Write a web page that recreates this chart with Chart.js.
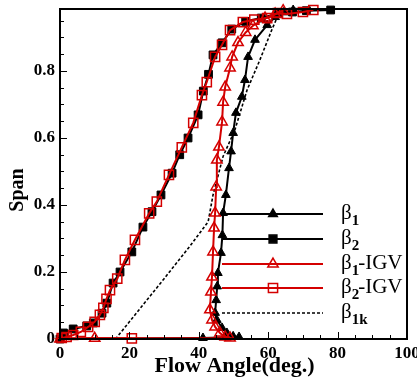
<!DOCTYPE html>
<html><head><meta charset="utf-8">
<script src="https://cdn.jsdelivr.net/npm/chart.js@4/dist/chart.umd.min.js"></script>
<style>html,body{margin:0;padding:0;background:#fff}#wrap{width:417px;height:381px}</style>
</head><body><div id="wrap"><canvas id="c" width="417" height="381"></canvas></div>
<script>
// ---- data (Flow angle in deg., Span) ----
const xTicks = [0, 20, 40, 60, 80, 100];
const yTicks = [0, 0.2, 0.4, 0.6, 0.8];
const yTickLabels = ["0", "0.2", "0.4", "0.6", "0.8"];

const beta1X = [0, 41.2, 51.6, 49.9, 48.1, 46.7, 45.2, 44.7, 45.0, 45.3, 45.5, 46.4, 46.8, 47.0, 47.8, 48.7, 49.3, 49.9, 50.7, 52.4, 53.3, 54.2, 56.2, 59.7, 62.0, 64.5, 67.2];
const beta1Y = [0, 0.003, 0.006, 0.008, 0.018, 0.033, 0.057, 0.078, 0.116, 0.157, 0.197, 0.257, 0.31, 0.376, 0.43, 0.51, 0.56, 0.615, 0.675, 0.723, 0.773, 0.842, 0.893, 0.937, 0.961, 0.975, 0.982];

const beta2X = [0, 1.0, 3.8, 7.7, 9.6, 12.1, 13.5, 15.3, 17.3, 20.7, 23.9, 26.5, 29.1, 32.3, 34.5, 36.9, 39.8, 41.3, 42.8, 44.1, 46.7, 49.5, 53.5, 58.0, 63.0, 67.0, 71.0, 78.0];
const beta2Y = [0, 0.018, 0.03, 0.039, 0.048, 0.077, 0.107, 0.167, 0.2, 0.26, 0.334, 0.38, 0.43, 0.495, 0.55, 0.6, 0.669, 0.74, 0.79, 0.848, 0.884, 0.925, 0.948, 0.958, 0.972, 0.976, 0.98, 0.982];

const beta1IgvX = [0, 10.0, 49.0, 47.6, 46.1, 44.7, 43.8, 43.2, 43.5, 43.8, 44.1, 44.4, 44.7, 45.0, 45.2, 45.8, 46.7, 47.0, 47.6, 49.0, 49.6, 51.3, 53.5, 55.6, 59.1, 62.0, 64.3];
const beta1IgvY = [0, 0.002, 0.003, 0.006, 0.018, 0.036, 0.057, 0.087, 0.14, 0.185, 0.26, 0.331, 0.376, 0.454, 0.534, 0.573, 0.648, 0.707, 0.752, 0.809, 0.842, 0.885, 0.915, 0.935, 0.958, 0.97, 0.98];

const beta2IgvX = [20.7, 0.5, 1.9, 3.8, 6.0, 8.1, 10.0, 11.5, 12.5, 13.4, 14.4, 16.5, 18.7, 21.6, 25.7, 27.9, 31.4, 35.1, 38.4, 40.9, 42.3, 44.7, 46.7, 49.0, 52.7, 56.0, 59.7, 62.8, 65.4, 70.0, 73.0];
const beta2IgvY = [0.002, 0.003, 0.006, 0.012, 0.021, 0.036, 0.051, 0.072, 0.093, 0.12, 0.146, 0.18, 0.236, 0.296, 0.375, 0.41, 0.49, 0.572, 0.645, 0.728, 0.767, 0.842, 0.878, 0.922, 0.946, 0.953, 0.958, 0.973, 0.97, 0.976, 0.982];

const beta1kX = [16.0, 23.0, 30.0, 37.5, 42.7, 44.1, 47.0, 50.4, 53.9, 57.6, 61.0, 62.6, 64.0];
const beta1kY = [0, 0.09, 0.18, 0.278, 0.35, 0.43, 0.545, 0.624, 0.743, 0.833, 0.922, 0.96, 0.975];

const seriesNames = ["β1", "β2", "β1-IGV", "β2-IGV", "β1k"];

function zip(xs, ys) { return xs.map((x, i) => ({x: x, y: ys[i]})); }

const SERIF = '"Liberation Serif", "Times New Roman", serif';

const legendRows = [
  {name: seriesNames[0], color: '#000', dash: [], style: 'triangle', fill: '#000', r: 5},
  {name: seriesNames[1], color: '#000', dash: [], style: 'rect', fill: '#000', r: 5.5},
  {name: seriesNames[2], color: '#d40000', dash: [], style: 'triangle', fill: 'rgba(0,0,0,0)', r: 6},
  {name: seriesNames[3], color: '#d40000', dash: [], style: 'rect', fill: 'rgba(0,0,0,0)', r: 6.5},
  {name: seriesNames[4], color: '#000', dash: [3, 2], style: false, fill: null, r: 0}
];

const decor = {
  id: 'decor',
  afterDatasetsDraw(chart) {
    const ctx = chart.ctx, a = chart.chartArea;
    const xs = chart.scales.x, ys = chart.scales.y;
    ctx.save();
    // inward ticks
    ctx.strokeStyle = '#000';
    ctx.lineWidth = 1;
    for (let v = 0; v <= 100; v += 5) {
      const px = Math.round(xs.getPixelForValue(v)) + 0.5;
      const len = (v % 20 === 0) ? 7 : 4;
      ctx.beginPath(); ctx.moveTo(px, a.bottom); ctx.lineTo(px, a.bottom - len); ctx.stroke();
    }
    for (let k = 0; k <= 19; k++) {
      const v = k * 0.05;
      if (v > ys.max) break;
      const py = Math.round(ys.getPixelForValue(v)) + 0.5;
      const len = (k % 4 === 0) ? 7 : 4;
      ctx.beginPath(); ctx.moveTo(a.left, py); ctx.lineTo(a.left + len, py); ctx.stroke();
    }
    // frame
    ctx.lineWidth = 2;
    ctx.strokeRect(a.left, a.top, a.right - a.left, a.bottom - a.top);
    // legend
    const rowY = [214, 239, 264, 288, 313];
    legendRows.forEach((r, i) => {
      const y = rowY[i];
      ctx.save();
      ctx.strokeStyle = r.color;
      ctx.lineWidth = r.style ? 2 : 1.6;
      ctx.setLineDash(r.dash);
      ctx.beginPath(); ctx.moveTo(222, y); ctx.lineTo(323, y); ctx.stroke();
      ctx.restore();
      if (r.style) {
        ctx.save();
        ctx.strokeStyle = r.color; ctx.fillStyle = r.fill; ctx.lineWidth = 1.5;
        Chart.helpers.drawPoint(ctx, {pointStyle: r.style, radius: r.r, rotation: 0, borderWidth: 1.5}, 273, y);
        ctx.restore();
      }
      // text: beta with subscript
      ctx.fillStyle = '#000';
      ctx.textBaseline = 'alphabetic';
      ctx.textAlign = 'left';
      let tx = 341;
      const base = y + 5;
      ctx.font = '21px ' + SERIF;
      ctx.fillText('β', tx, base);
      tx += ctx.measureText('β').width;
      const sub = r.name.slice(1).replace(/-IGV$/, '');
      ctx.font = 'bold 15px ' + SERIF;
      ctx.fillText(sub, tx, base + 6);
      tx += ctx.measureText(sub).width;
      if (r.name.endsWith('-IGV')) {
        ctx.font = '21px ' + SERIF;
        ctx.fillText('-IGV', tx - 1, base);
      }
    });
    // axis titles
    ctx.fillStyle = '#000';
    ctx.font = 'bold 22px ' + SERIF;
    ctx.textAlign = 'center';
    ctx.textBaseline = 'middle';
    ctx.fillText('Flow Angle(deg.)', (a.left + a.right) / 2 + 1, 366);
    ctx.save();
    ctx.translate(18, 190);
    ctx.rotate(-Math.PI / 2);
    ctx.font = 'bold 20px ' + SERIF;
    ctx.fillText('Span', 0, 0);
    ctx.restore();
    ctx.restore();
  }
};

new Chart(document.getElementById('c'), {
  type: 'scatter',
  data: {
    datasets: [
      {label: seriesNames[3], data: zip(beta2IgvX, beta2IgvY), showLine: true, borderColor: '#d40000', borderWidth: 2,
       pointStyle: 'rect', pointRadius: 6.5, pointBorderColor: '#d40000', pointBackgroundColor: 'rgba(0,0,0,0)', pointBorderWidth: 1.5, clip: false},
      {label: seriesNames[2], data: zip(beta1IgvX, beta1IgvY), showLine: true, borderColor: '#d40000', borderWidth: 2,
       pointStyle: 'triangle', pointRadius: 6, pointBorderColor: '#d40000', pointBackgroundColor: 'rgba(0,0,0,0)', pointBorderWidth: 1.5, clip: false},
      {label: seriesNames[1], data: zip(beta2X, beta2Y), showLine: true, borderColor: '#000', borderWidth: 2,
       pointStyle: 'rect', pointRadius: 5.5, pointBorderColor: '#000', pointBackgroundColor: '#000', pointBorderWidth: 1, clip: false},
      {label: seriesNames[0], data: zip(beta1X, beta1Y), showLine: true, borderColor: '#000', borderWidth: 2,
       pointStyle: 'triangle', pointRadius: 5, pointBorderColor: '#000', pointBackgroundColor: '#000', pointBorderWidth: 1, clip: false},
      {label: seriesNames[4], data: zip(beta1kX, beta1kY), showLine: true, borderColor: '#000', borderWidth: 1.6,
       borderDash: [3, 2], pointRadius: 0, clip: false}
    ]
  },
  options: {
    responsive: false,
    animation: false,
    events: [],
    layout: {padding: {left: 0, top: 9, right: 10, bottom: 0}},
    plugins: {legend: {display: false}, tooltip: {enabled: false}},
    scales: {
      x: {
        type: 'linear', min: 0, max: 100,
        afterBuildTicks: s => { s.ticks = xTicks.map(v => ({value: v})); },
        afterFit: s => { s.height = 42; s.paddingLeft = 0; s.paddingRight = 0; },
        grid: {display: false, drawTicks: false},
        border: {display: false},
        ticks: {padding: 4, color: '#000', font: {family: SERIF, size: 17, weight: 'bold'}, maxRotation: 0,
                callback: v => String(v)}
      },
      y: {
        type: 'linear', min: 0, max: 0.985,
        afterBuildTicks: s => { s.ticks = yTicks.map(v => ({value: v})); },
        afterFit: s => { s.width = 60; s.paddingTop = 0; s.paddingBottom = 0; },
        grid: {display: false, drawTicks: false},
        border: {display: false},
        ticks: {padding: 5, color: '#000', font: {family: SERIF, size: 17, weight: 'bold'},
                callback: (v) => { const i = yTicks.indexOf(v); return i >= 0 ? yTickLabels[i] : ''; }}
      }
    }
  },
  plugins: [decor]
});
</script>
</body></html>
